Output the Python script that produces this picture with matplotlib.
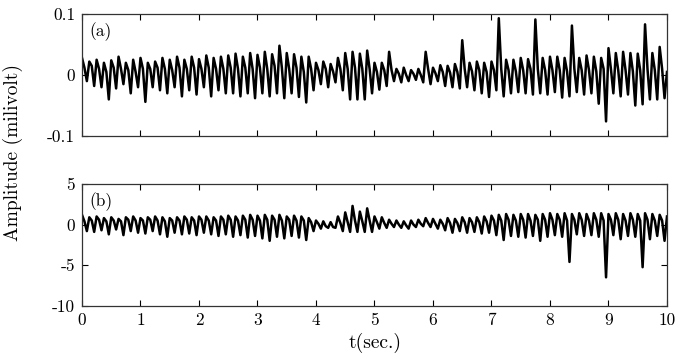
import numpy as np
import matplotlib
matplotlib.use("Agg")
import matplotlib.pyplot as plt

plt.rcParams['font.family'] = ['cmr10', 'DejaVu Serif']
plt.rcParams['mathtext.fontset'] = 'cm'
plt.rcParams['axes.unicode_minus'] = False

# panel (a): per beat -> peak, shoulder, trough (milivolt), last value is the end point
sig_a = [
    0.028, 0.012, -0.010,  0.022, 0.015, -0.018,  0.025, 0.010, -0.020,  0.020, 0.005, -0.040,
    0.024, 0.012, -0.022,  0.030, 0.010, -0.015,  0.020, 0.008, -0.030,  0.025, 0.005, -0.020,
    0.028, 0.010, -0.044,  0.020, 0.010, -0.020,  0.022, 0.012, -0.025,  0.028, 0.010, -0.030,
    0.025, 0.008, -0.020,  0.030, 0.012, -0.035,  0.025, 0.010, -0.025,  0.030, 0.012, -0.032,
    0.026, 0.010, -0.020,  0.032, 0.012, -0.035,  0.028, 0.010, -0.025,  0.030, 0.010, -0.030,
    0.032, 0.012, -0.030,  0.035, 0.010, -0.035,  0.030, 0.012, -0.030,  0.036, 0.010, -0.038,
    0.033, 0.012, -0.030,  0.038, 0.010, -0.035,  0.034, 0.015, -0.030,  0.048, 0.012, -0.038,
    0.036, 0.010, -0.030,  0.034, 0.012, -0.036,  0.030, 0.005, -0.045,  0.030, 0.010, -0.025,
    0.020, 0.008, -0.015,  0.022, 0.010, -0.020,  0.018, 0.006, -0.012,  0.028, 0.010, -0.025,
    0.036, 0.010, -0.040,  0.038, 0.012, -0.040,  0.035, 0.010, -0.040,  0.040, 0.010, -0.030,
    0.020, 0.005, -0.024,  0.020, 0.008, -0.018,  0.038, 0.008, -0.010,  0.010, 0.002, -0.012,
    0.012, 0.000, -0.010,  0.008, 0.002, -0.008,  0.010, 0.000, -0.012,  0.038, 0.010, -0.015,
    0.012, 0.003, -0.010,  0.016, 0.005, -0.018,  0.015, 0.004, -0.020,  0.018, 0.005, -0.022,
    0.057, 0.010, -0.020,  0.020, 0.006, -0.025,  0.022, 0.008, -0.030,  0.020, 0.005, -0.036,
    0.022, 0.008, -0.025,  0.093, 0.010, -0.035,  0.025, 0.008, -0.030,  0.025, 0.006, -0.028,
    0.028, 0.008, -0.030,  0.026, 0.010, -0.032,  0.091, 0.010, -0.030,  0.028, 0.008, -0.032,
    0.030, 0.008, -0.028,  0.030, 0.008, -0.037,  0.028, 0.006, -0.035,  0.081, 0.010, -0.028,
    0.028, 0.008, -0.032,  0.032, 0.008, -0.030,  0.030, 0.006, -0.047,  0.028, 0.010, -0.076,
    0.044, 0.010, -0.030,  0.036, 0.008, -0.035,  0.038, 0.008, -0.032,  0.036, 0.006, -0.050,
    0.035, 0.008, -0.048,  0.083, 0.010, -0.040,  0.036, 0.008, -0.040,  0.046, 0.010, -0.038,
    0.005,
]

# panel (b): same layout, values in milivolt
sig_b = [
    1.2, 0.4, -0.8,  0.9, 0.5, -0.9,  1.0, 0.6, -0.7,  0.8, 0.4, -1.2,
    0.9, 0.5, -0.6,  0.7, 0.4, -1.3,  0.9, 0.6, -0.8,  1.0, 0.5, -1.0,
    0.8, 0.5, -1.1,  0.9, 0.6, -0.8,  1.0, 0.5, -1.2,  0.9, 0.4, -1.5,
    0.8, 0.5, -1.0,  0.9, 0.5, -1.2,  1.0, 0.6, -1.1,  0.9, 0.5, -1.3,
    1.0, 0.6, -1.0,  1.0, 0.5, -1.2,  0.9, 0.5, -1.4,  1.0, 0.6, -1.2,
    1.1, 0.6, -1.5,  1.0, 0.5, -1.3,  1.1, 0.6, -1.6,  1.2, 0.6, -1.4,
    1.1, 0.5, -1.7,  1.2, 0.6, -2.0,  1.1, 0.6, -1.5,  1.2, 0.5, -1.7,
    1.0, 0.6, -1.4,  1.1, 0.5, -1.6,  1.0, 0.5, -1.9,  0.8, 0.3, -0.8,
    0.5, 0.1, -0.5,  0.4, -0.2, -0.4,  0.3, -0.3, -0.4,  1.0, 0.2, -0.8,
    1.5, 0.3, -0.9,  2.3, 0.5, -0.9,  1.6, 0.4, -0.9,  2.0, 0.5, -0.9,
    1.0, 0.3, -0.5,  0.9, 0.2, -0.4,  0.6, 0.1, -0.3,  0.5, 0.0, -0.4,
    0.4, -0.1, -0.5,  0.5, 0.0, -0.3,  0.6, 0.1, -0.2,  0.8, 0.2, -0.3,
    0.7, 0.1, -0.5,  0.6, 0.1, -0.7,  0.8, 0.2, -1.0,  0.7, 0.2, -0.8,
    0.9, 0.3, -1.0,  0.8, 0.3, -0.9,  0.9, 0.3, -1.1,  1.0, 0.4, -1.0,
    1.1, 0.5, -1.3,  1.2, 0.5, -1.9,  1.3, 0.6, -1.4,  1.2, 0.5, -1.5,
    1.3, 0.6, -1.6,  1.3, 0.5, -1.4,  1.2, 0.6, -2.0,  1.3, 0.6, -1.5,
    1.4, 0.6, -1.3,  1.3, 0.6, -1.5,  1.4, 0.5, -4.6,  1.3, 0.6, -1.2,
    1.4, 0.6, -1.4,  1.3, 0.5, -1.3,  1.4, 0.6, -1.5,  1.4, 0.5, -6.5,
    1.3, 0.6, -1.3,  1.4, 0.6, -1.8,  1.3, 0.5, -1.4,  1.4, 0.6, -1.5,
    1.3, 0.5, -5.25,  1.4, 0.6, -1.8,  1.3, 0.5, -1.4,  1.2, 0.5, -2.0,
    1.0,
]

x_ticks = [0, 1, 2, 3, 4, 5, 6, 7, 8, 9, 10]
ya_ticks = [-0.1, 0, 0.1]
ya_labels = ['-0.1', '0', '0.1']
yb_ticks = [-10, -5, 0, 5]
yb_labels = ['-10', '-5', '0', '5']

t_a = np.linspace(0, 10, len(sig_a))
t_b = np.linspace(0, 10, len(sig_b))

fig = plt.figure(figsize=(6.85, 3.58), dpi=100)
ax1 = fig.add_axes([0.1197, 0.620, 0.854, 0.341])
ax2 = fig.add_axes([0.1197, 0.146, 0.854, 0.340])

ax1.plot(t_a, sig_a, color='black', lw=1.8)
ax2.plot(t_b, sig_b, color='black', lw=1.8)

for ax in (ax1, ax2):
    ax.set_xlim(0, 10)
    ax.set_xticks(x_ticks)
    ax.tick_params(direction='in', top=True, right=True, length=4, width=0.8,
                   labelsize=12.5, pad=5)
    for s in ax.spines.values():
        s.set_linewidth(0.9)
        s.set_color('#333333')

ax1.set_ylim(-0.1, 0.1)
ax1.set_yticks(ya_ticks)
ax1.set_yticklabels(ya_labels)
ax1.set_xticklabels([])
ax1.text(0.012, 0.93, '(a)', transform=ax1.transAxes, fontsize=12.5, va='top')

ax2.set_ylim(-10, 5)
ax2.set_yticks(yb_ticks)
ax2.set_yticklabels(yb_labels)
ax2.set_xticklabels([str(v) for v in x_ticks])
ax2.text(0.012, 0.93, '(b)', transform=ax2.transAxes, fontsize=12.5, va='top')

fig.text(0.547, 0.042, 't(sec.)', ha='center', va='center', fontsize=14)
fig.text(0.019, 0.573, 'Amplitude (milivolt)', rotation=90, ha='center', va='center',
         fontsize=14)

fig.savefig('out.png', dpi=100)
